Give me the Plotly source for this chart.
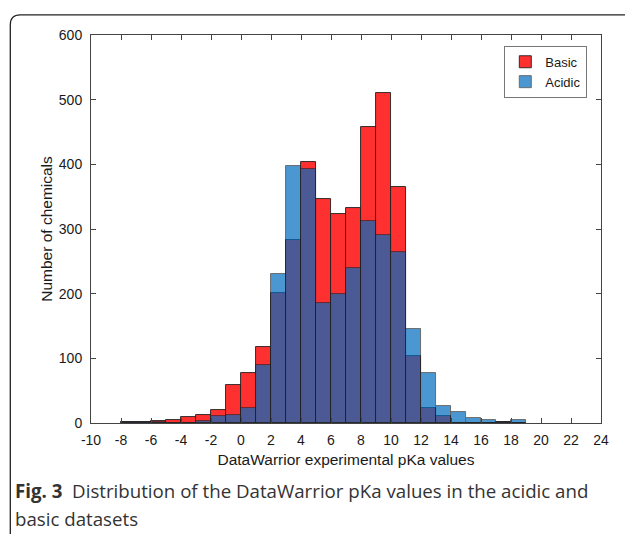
import plotly.graph_objects as go

# ---- data ----
bin_left = list(range(-8, 19))  # bins of width 1, from -8 to 19
basic = [1, 2, 3, 4, 10, 12, 20, 58, 78, 118, 201, 283, 404, 347, 323, 333,
         457, 511, 365, 103, 23, 11, 0, 0, 0, 1, 0]
acidic = [1, 2, 1, 0, 0, 3, 11, 12, 23, 90, 231, 397, 393, 186, 200, 240,
          313, 291, 264, 145, 78, 27, 17, 8, 5, 2, 4]
x_ticks = list(range(-10, 25, 2))
y_ticks = list(range(0, 601, 100))

centers = [b + 0.5 for b in bin_left]

W, H = 625, 534
L, R, T, B = 90.7, 600.7, 35.2, 423.3
pw, ph = R - L, B - T


def px(x):
    return (x - L) / pw


def py(y):
    return (B - y) / ph


fig = go.Figure()
fig.add_trace(go.Bar(
    x=centers, y=basic, width=1, name="Basic",
    marker=dict(color="rgb(255,48,48)", line=dict(color="#202020", width=0.9)),
))
fig.add_trace(go.Bar(
    x=centers, y=acidic, width=1, name="Acidic", opacity=0.7,
    marker=dict(color="rgb(0,108,192)", line=dict(color="#202020", width=0.9)),
))

tick_font = dict(family="Liberation Sans, Arial, sans-serif", size=14, color="#1a1a1a")
title_font = dict(family="Liberation Sans, Arial, sans-serif", size=15.5, color="#1a1a1a")

fig.update_layout(
    width=W, height=H,
    margin=dict(l=L, r=W - R, t=T, b=H - B, autoexpand=False),
    barmode="overlay", bargap=0,
    paper_bgcolor="white", plot_bgcolor="white",
    showlegend=True,
    legend=dict(
        x=px(587), y=py(46), xanchor="right", yanchor="top",
        bgcolor="white", bordercolor="#777777", borderwidth=1,
        font=dict(family="Liberation Sans, Arial, sans-serif", size=13, color="#1a1a1a"),
        traceorder="normal", tracegroupgap=0,
    ),
    xaxis=dict(
        range=[-10, 24], tickmode="array", tickvals=x_ticks,
        ticktext=[str(v) for v in x_ticks],
        ticks="inside", ticklen=5, tickcolor="#444", showline=True, linecolor="#444",
        linewidth=1, mirror="ticks", showgrid=False, zeroline=False,
        tickfont=tick_font, automargin=False, ticklabelstandoff=4,
        title=dict(text="DataWarrior experimental pKa values", font=title_font, standoff=7),
    ),
    yaxis=dict(
        range=[0, 600], tickmode="array", tickvals=y_ticks,
        ticktext=[str(v) for v in y_ticks],
        ticks="inside", ticklen=5, tickcolor="#444", showline=True, linecolor="#444",
        linewidth=1, mirror="ticks", showgrid=False, zeroline=False,
        tickfont=tick_font, automargin=False, ticklabelstandoff=5,
        title=dict(text="Number of chemicals", font=title_font, standoff=2),
    ),
)

# rounded frame of the figure panel
x0, ytop, rr = 10, 15, 10
path = (f"M {px(x0)},{py(545)} L {px(x0)},{py(ytop + rr)} "
        f"Q {px(x0)},{py(ytop)} {px(x0 + rr)},{py(ytop)} L {px(640)},{py(ytop)}")
fig.add_shape(type="path", path=path, xref="paper", yref="paper",
              line=dict(color="#222222", width=1.3))

cap_font = dict(family="Open Sans, Noto Sans, sans-serif", size=18.7, color="#333333")
fig.add_annotation(
    text="<b>Fig. 3</b>  Distribution of the DataWarrior pKa values in the acidic and",
    xref="paper", yref="paper", x=px(13), y=py(491), xanchor="left", yanchor="middle",
    showarrow=False, font=cap_font,
)
fig.add_annotation(
    text="basic datasets",
    xref="paper", yref="paper", x=px(13), y=py(519), xanchor="left", yanchor="middle",
    showarrow=False, font=cap_font,
)

fig.write_html("out.html")
